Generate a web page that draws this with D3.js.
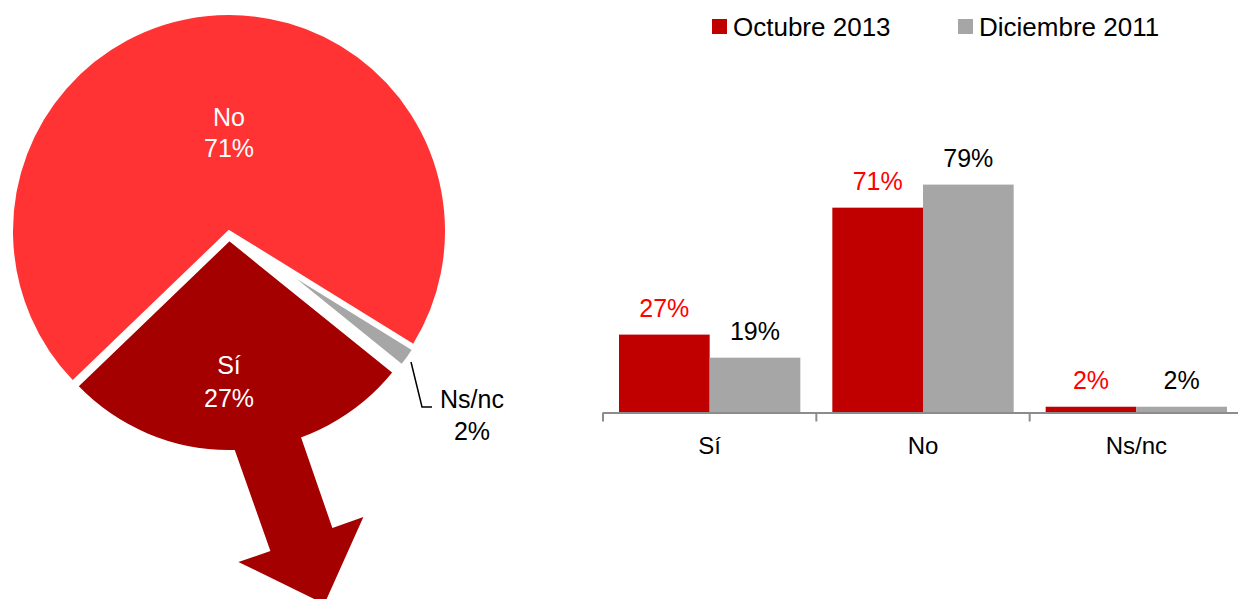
<!DOCTYPE html>
<html>
<head>
<meta charset="utf-8">
<script src="https://cdn.jsdelivr.net/npm/d3@7"></script>
<style>
  html, body { margin: 0; padding: 0; background: #fff; }
  svg { display: block; font-family: "Liberation Sans", Arial, sans-serif; }
</style>
</head>
<body>
<svg id="chart" width="1238" height="599"></svg>
<script>
// ---------- data ----------
const pieLabels = ["Sí", "No", "Ns/nc"];
const pieValues = [27, 71, 2];

const categories = ["Sí", "No", "Ns/nc"];
const seriesNames = ["Octubre 2013", "Diciembre 2011"];
const octubre2013 = [27, 71, 2];
const diciembre2011 = [19, 79, 2];

// ---------- styles ----------
const pieColors = { "Sí": "#A50000", "No": "#FF3333", "Ns/nc": "#A6A6A6" };
const barColors = ["#C00000", "#A6A6A6"];
const labelColors = ["#FF0000", "#000000"];

const svg = d3.select("#chart");

// ---------- pie ----------
const cx = 229, cy = 231;
const deg = Math.PI / 180;
const pieGen = d3.pie().sort(null).value(d => d.value)
  .startAngle(128.9 * deg).endAngle((128.9 + 360) * deg);
const pieData = pieGen(pieLabels.map((l, i) => ({ label: l, value: pieValues[i] })));

// per-slice look: radius and explosion distance
const sliceLook = { "No": { r: 217, off: 0 }, "Sí": { r: 211, off: 9 }, "Ns/nc": { r: 153, off: 66 } };

const pieG = svg.append("g").attr("transform", `translate(${cx},${cy})`);

function offsetOf(d) {
  const a = (d.startAngle + d.endAngle) / 2;
  const o = sliceLook[d.data.label].off;
  return [o * Math.sin(a), -o * Math.cos(a)];
}

pieG.selectAll("path.slice")
  .data(pieData)
  .join("path")
  .attr("class", "slice")
  .attr("transform", d => { const o = offsetOf(d); return `translate(${o[0]},${o[1]})`; })
  .attr("d", d => d3.arc().innerRadius(0).outerRadius(sliceLook[d.data.label].r)(d))
  .attr("fill", d => pieColors[d.data.label])
  .attr("stroke", "#fff")
  .attr("stroke-width", 2)
  .attr("stroke-linejoin", "round");

// arrow out of the Sí slice (decoration), placed relative to the Sí slice apex
const siD = pieData.find(d => d.data.label === "Sí");
const [sox, soy] = offsetOf(siD);
const arrowPts = [[-1, 192], [66, 181], [103, 288], [134, 277], [95, 364], [9, 322], [41, 311]]
  .map(p => [p[0] + sox, p[1] + soy]);
pieG.append("path")
  .attr("d", d3.line()(arrowPts) + "Z")
  .attr("fill", pieColors["Sí"]);

const pieFont = 25;
// No label
pieG.append("text").attr("x", 0).attr("y", -105).attr("text-anchor", "middle")
  .attr("fill", "#fff").attr("font-size", pieFont).text(pieLabels[1]);
pieG.append("text").attr("x", 0).attr("y", -74).attr("text-anchor", "middle")
  .attr("fill", "#fff").attr("font-size", pieFont).text(pieValues[1] + "%");
// Sí label
pieG.append("text").attr("x", 0).attr("y", 143).attr("text-anchor", "middle")
  .attr("fill", "#fff").attr("font-size", pieFont).text(pieLabels[0]);
pieG.append("text").attr("x", 0).attr("y", 176).attr("text-anchor", "middle")
  .attr("fill", "#fff").attr("font-size", pieFont).text(pieValues[0] + "%");
// Ns/nc label with leader
pieG.append("path")
  .attr("d", "M182,131 L193,176 L203,176")
  .attr("fill", "none").attr("stroke", "#000").attr("stroke-width", 1.5);
pieG.append("text").attr("x", 243).attr("y", 177).attr("text-anchor", "middle")
  .attr("fill", "#000").attr("font-size", pieFont).text(pieLabels[2]);
pieG.append("text").attr("x", 243).attr("y", 209).attr("text-anchor", "middle")
  .attr("fill", "#000").attr("font-size", pieFont).text(pieValues[2] + "%");

// ---------- bar chart ----------
const x0 = d3.scaleBand().domain(categories).range([603, 1243])
  .paddingInner(0.15).paddingOuter(0.075);
const x1 = d3.scaleBand().domain(seriesNames).range([0, x0.bandwidth()]);
const y = d3.scaleLinear().domain([0, 100]).range([412.5, 124]);
const step = x0.step();
const seriesVals = [octubre2013, diciembre2011];

const barG = svg.append("g");
categories.forEach((c, ci) => {
  seriesNames.forEach((s, si) => {
    const v = seriesVals[si][ci];
    barG.append("rect")
      .attr("x", x0(c) + x1(s))
      .attr("y", y(v))
      .attr("width", x1.bandwidth())
      .attr("height", y(0) - y(v))
      .attr("fill", barColors[si]);
    barG.append("text")
      .attr("x", x0(c) + x1(s) + x1.bandwidth() / 2)
      .attr("y", y(v) - 17.5)
      .attr("text-anchor", "middle")
      .attr("font-size", 25)
      .attr("fill", labelColors[si])
      .text(v + "%");
  });
});

// axis
const axisStart = x0.range()[0];
barG.append("line")
  .attr("x1", axisStart).attr("x2", 1238)
  .attr("y1", y(0) + 0.5).attr("y2", y(0) + 0.5)
  .attr("stroke", "#8C8C8C").attr("stroke-width", 2);
d3.range(categories.length + 1).forEach(i => {
  const tx = axisStart + i * step;
  if (tx > 1238) return;
  barG.append("line")
    .attr("x1", tx).attr("x2", tx)
    .attr("y1", y(0)).attr("y2", y(0) + 9)
    .attr("stroke", "#8C8C8C").attr("stroke-width", 2);
});
categories.forEach(c => {
  barG.append("text")
    .attr("x", x0(c) + x0.bandwidth() / 2)
    .attr("y", 454)
    .attr("text-anchor", "middle")
    .attr("font-size", 24)
    .attr("fill", "#000")
    .text(c);
});

// legend
const legendX = [712, 958];
const legG = svg.append("g");
seriesNames.forEach((s, i) => {
  legG.append("rect").attr("x", legendX[i]).attr("y", 19).attr("width", 15).attr("height", 15)
    .attr("fill", barColors[i]);
  legG.append("text").attr("x", legendX[i] + 21).attr("y", 35.5)
    .attr("font-size", 26).attr("fill", "#000").text(s);
});
</script>
</body>
</html>
